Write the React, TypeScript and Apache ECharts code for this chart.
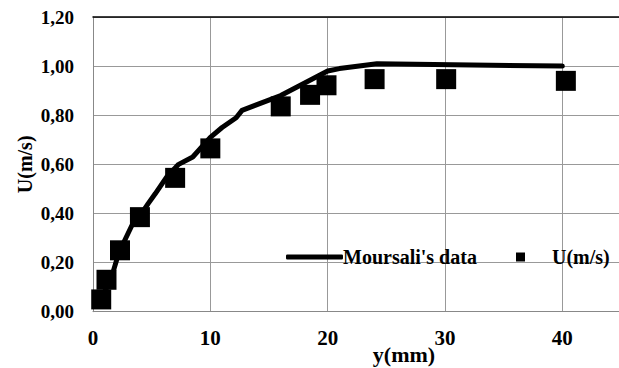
import React, { useEffect, useRef } from "react";
import * as echarts from "echarts";

const lineX = [0.6, 1.2, 1.7, 2.2, 2.8, 3.3, 4.0, 4.7, 5.3, 6.3, 7.3, 8.5, 10.0, 11.0, 12.2, 12.7, 16.0, 18.0, 20.0, 21.0, 24.2, 40.0];
const lineY = [0.05, 0.1, 0.16, 0.24, 0.3, 0.35, 0.39, 0.44, 0.48, 0.55, 0.6, 0.63, 0.71, 0.75, 0.79, 0.82, 0.88, 0.93, 0.98, 0.99, 1.01, 1.0];
const pointX = [0.7, 1.15, 2.3, 4.0, 7.0, 10.0, 16.0, 18.5, 19.9, 24.0, 30.1, 40.3];
const pointY = [0.05, 0.13, 0.25, 0.385, 0.545, 0.665, 0.836, 0.883, 0.922, 0.947, 0.947, 0.94];
const lineName = "Moursali's data";
const pointName = "U(m/s)";
const xTitle = "y(mm)";
const yTitle = "U(m/s)";

export default function App() {
  const ref = useRef<HTMLDivElement>(null);
  useEffect(() => {
    if (!ref.current) return;
    const chart = echarts.init(ref.current, null, { renderer: "svg" });
    const font = "Liberation Serif";
    chart.setOption({
      animation: false,
      backgroundColor: "#fff",
      textStyle: { fontFamily: font },
      grid: { left: 93, top: 17, width: 528, height: 294.7, containLabel: false, outerBoundsMode: "none" },
      legend: [
        {
          data: [{ name: lineName, icon: "roundRect" }],
          left: 281,
          top: 242,
          itemWidth: 57,
          itemHeight: 5,
          textStyle: { fontFamily: font, fontWeight: "bold", fontSize: 20, color: "#000", padding: [0, 0, 0, -5] },
        },
        {
          data: [{ name: pointName, icon: "rect" }],
          left: 511,
          top: 242,
          itemWidth: 9,
          itemHeight: 9,
          textStyle: { fontFamily: font, fontWeight: "bold", fontSize: 20, color: "#000", padding: [0, 0, 0, 22] },
        },
      ],
      xAxis: [
        {
          type: "value",
          min: 0,
          max: 45,
          interval: 10,
          name: xTitle,
          nameLocation: "middle",
          nameGap: 32,
          nameMoveOverlap: false,
          nameTextStyle: { fontFamily: font, fontWeight: "bold", fontSize: 22, color: "#000", padding: [0, 0, 0, 94] },
          axisLine: { show: true, lineStyle: { color: "#888", width: 1 } },
          axisTick: { show: false },
          axisLabel: { fontFamily: font, fontWeight: "bold", fontSize: 21, color: "#000", margin: 16, showMaxLabel: false },
          splitLine: { show: true, lineStyle: { color: "#999", width: 1 } },
        },
        {
          type: "value",
          position: "top",
          min: 0,
          max: 45,
          interval: 10,
          axisLine: { show: true, lineStyle: { color: "#000", width: 1.5 } },
          axisTick: { show: false },
          axisLabel: { show: false },
          splitLine: { show: false },
        },
      ],
      yAxis: {
        type: "value",
        min: 0,
        max: 1.2,
        interval: 0.2,
        name: yTitle,
        nameLocation: "middle",
        nameGap: 58,
        nameMoveOverlap: false,
        nameTextStyle: { fontFamily: font, fontWeight: "bold", fontSize: 20, color: "#000" },
        axisLine: { show: true, lineStyle: { color: "#888", width: 1 } },
        axisTick: { show: false },
        axisLabel: {
          fontFamily: font,
          fontWeight: "bold",
          fontSize: 19,
          color: "#000",
          margin: 19,
          formatter: (v: number) => v.toFixed(2).replace(".", ","),
        },
        splitLine: { show: true, lineStyle: { color: "#999", width: 1 } },
      },
      series: [
        {
          name: lineName,
          type: "line",
          data: lineX.map((x, i) => [x, lineY[i]]),
          symbol: "none",
          lineStyle: { color: "#000", width: 5, cap: "round", join: "round" },
          itemStyle: { color: "#000" },
          z: 2,
        },
        {
          name: pointName,
          type: "scatter",
          data: pointX.map((x, i) => [x, pointY[i]]),
          symbol: "rect",
          symbolSize: 20,
          itemStyle: { color: "#000", opacity: 1 },
          z: 3,
        },
      ],
    });
    return () => chart.dispose();
  }, []);
  return <div ref={ref} style={{ position: "fixed", left: 0, top: 0, width: 619, height: 368 }} />;
}
